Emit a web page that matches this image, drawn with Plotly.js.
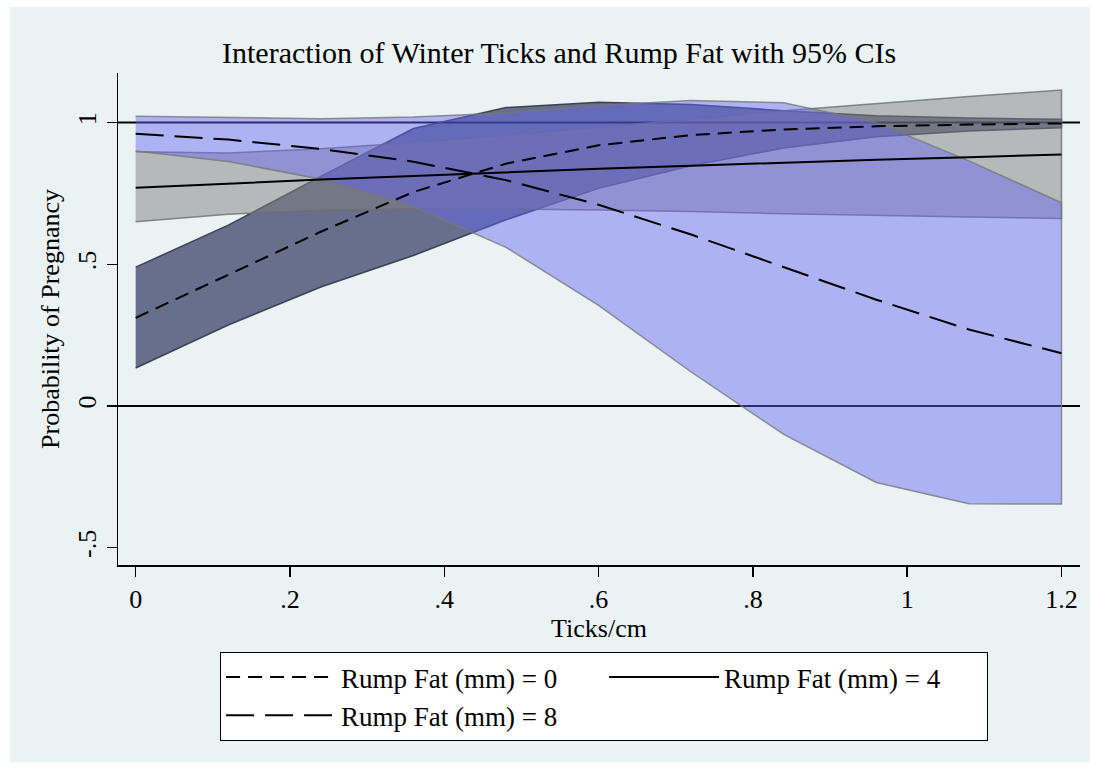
<!DOCTYPE html>
<html>
<head>
<meta charset="utf-8">
<script src="https://cdn.plot.ly/plotly-3.0.1.min.js"></script>
<style>
html,body{margin:0;padding:0;background:#ffffff;}
#chart{width:1099px;height:770px;}
</style>
</head>
<body>
<div id="chart"></div>
<script>
// Ticks/cm values at which the predictions were evaluated
var ticksPerCm = [0, 0.12, 0.24, 0.36, 0.48, 0.6, 0.72, 0.84, 0.96, 1.08, 1.2];

// Rump Fat (mm) = 0
var fat0Mean = [0.311, 0.462, 0.615, 0.755, 0.855, 0.920, 0.956, 0.976, 0.987, 0.993, 0.997];
var fat0Lo   = [0.134, 0.286, 0.420, 0.531, 0.657, 0.768, 0.848, 0.910, 0.950, 0.970, 0.982];
var fat0Hi   = [0.490, 0.638, 0.810, 0.979, 1.053, 1.072, 1.064, 1.042, 1.024, 1.016, 1.012];

// Rump Fat (mm) = 4
var fat4Mean = [0.770, 0.785, 0.799, 0.812, 0.825, 0.837, 0.848, 0.859, 0.869, 0.878, 0.887];
var fat4Lo   = [0.650, 0.677, 0.690, 0.695, 0.695, 0.692, 0.686, 0.678, 0.672, 0.667, 0.662];
var fat4Hi   = [0.897, 0.893, 0.908, 0.930, 0.955, 0.983, 1.012, 1.042, 1.068, 1.092, 1.115];

// Rump Fat (mm) = 8
var fat8Mean = [0.961, 0.940, 0.907, 0.862, 0.797, 0.710, 0.605, 0.490, 0.375, 0.270, 0.186];
var fat8Lo   = [0.900, 0.863, 0.800, 0.704, 0.560, 0.355, 0.120, -0.100, -0.270, -0.345, -0.346];
var fat8Hi   = [1.022, 1.017, 1.014, 1.020, 1.034, 1.060, 1.078, 1.070, 1.000, 0.865, 0.717];

var seriesNames = ["Rump Fat (mm) = 0", "Rump Fat (mm) = 4", "Rump Fat (mm) = 8"];

var xTickVals = [0, 0.2, 0.4, 0.6, 0.8, 1, 1.2];
var xTickText = ["0", ".2", ".4", ".6", ".8", "1", "1.2"];
var yTickVals = [-0.5, 0, 0.5, 1];
var yTickText = ["-.5", "0", ".5", "1"];
var refLines = [0, 1];        // black reference lines
var gridLines = [-0.5, 0.5];  // light grid lines

var xRange = [-0.0229, 1.224];
var yRange = [-0.561, 1.175];

function band(lo, hi, fill, edge) {
  var xx = ticksPerCm.concat(ticksPerCm.slice().reverse());
  var yy = hi.concat(lo.slice().reverse());
  return {
    x: xx, y: yy, type: "scatter", mode: "lines",
    fill: "toself", fillcolor: fill,
    line: {color: edge, width: 1.5},
    hoverinfo: "skip", showlegend: false
  };
}

function meanLine(y, name, dash) {
  return {
    x: ticksPerCm, y: y, type: "scatter", mode: "lines", name: name,
    line: {color: "#000000", width: 2, dash: dash}
  };
}

var traces = [
  band(fat0Lo, fat0Hi, "rgba(30,40,85,0.65)", "rgba(50,55,75,0.9)"),
  band(fat4Lo, fat4Hi, "rgba(128,128,128,0.5)", "rgba(110,110,110,0.8)"),
  band(fat8Lo, fat8Hi, "rgba(100,100,245,0.45)", "rgba(120,120,120,0.8)"),
  meanLine(fat0Mean, seriesNames[0], "14px,8px"),
  meanLine(fat4Mean, seriesNames[1], "solid"),
  meanLine(fat8Mean, seriesNames[2], "28px,11px")
];

var serif = "Liberation Serif, Times New Roman, serif";

var shapes = [
  {type: "rect", xref: "paper", yref: "paper", layer: "below",
   x0: -0.1124, x1: 1.0104, y0: -0.4004, y1: 1.134,
   fillcolor: "#EAF2F3", line: {width: 0}}
];
gridLines.forEach(function (v) {
  shapes.push({type: "line", xref: "x", yref: "y", layer: "below",
    x0: xRange[0], x1: xRange[1], y0: v, y1: v,
    line: {color: "#EAF2F3", width: 2}});
});
refLines.forEach(function (v) {
  shapes.push({type: "line", xref: "x", yref: "y", layer: "below",
    x0: xRange[0], x1: xRange[1], y0: v, y1: v,
    line: {color: "#000000", width: 2}});
});

var layout = {
  width: 1099, height: 770,
  paper_bgcolor: "#ffffff",
  plot_bgcolor: "#ffffff",
  margin: {l: 118, r: 19, t: 73, b: 205, pad: 0},
  font: {family: serif, color: "#000000", size: 26},
  title: {
    text: "Interaction of Winter Ticks and Rump Fat with 95% CIs",
    font: {family: serif, size: 30, color: "#000000"},
    xref: "container", yref: "container",
    x: 0.5087, xanchor: "center", y: 0.932, yanchor: "middle"
  },
  xaxis: {
    range: xRange,
    tickmode: "array", tickvals: xTickVals, ticktext: xTickText,
    ticks: "outside", ticklen: 10, tickwidth: 1.5, tickcolor: "#000000",
    showline: true, linecolor: "#000000", linewidth: 1.5,
    showgrid: false, zeroline: false,
    tickfont: {family: serif, size: 26},
    title: {text: "Ticks/cm", font: {family: serif, size: 26}, standoff: 2},
    fixedrange: true
  },
  yaxis: {
    range: yRange,
    tickmode: "array", tickvals: yTickVals, ticktext: yTickText,
    tickangle: -90,
    ticks: "outside", ticklen: 10, tickwidth: 1.5, tickcolor: "#000000",
    showline: true, linecolor: "#000000", linewidth: 1.5,
    showgrid: false,
    zeroline: false,
    tickfont: {family: serif, size: 26},
    title: {text: "Probability of Pregnancy", font: {family: serif, size: 26}, standoff: 6},
    fixedrange: true
  },
  shapes: shapes,
  showlegend: true,
  legend: {
    orientation: "h",
    x: 0.1061, xanchor: "left",
    y: -0.1768, yanchor: "top",
    bgcolor: "#ffffff", bordercolor: "#000000", borderwidth: 1,
    font: {family: serif, size: 27, color: "#000000"},
    entrywidth: 258, entrywidthmode: "pixels",
    itemwidth: 110,
    traceorder: "normal"
  }
};

Plotly.newPlot("chart", traces, layout, {displayModeBar: false, staticPlot: true});
</script>
</body>
</html>
